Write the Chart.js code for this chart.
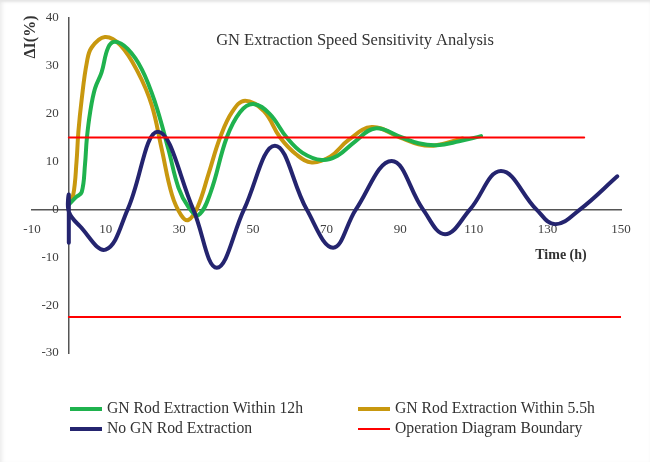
<!DOCTYPE html>
<html>
<head>
<meta charset="utf-8">
<title>GN Extraction Speed Sensitivity Analysis</title>
<script src="https://cdn.jsdelivr.net/npm/chart.js@4.4.1/dist/chart.umd.min.js"></script>
<style>
  body { margin: 0; background: #fff; }
  #wrap { position: relative; width: 650px; height: 462px; box-shadow: inset 0 3px 3px -1px #e4e4e4, inset 4px 0 4px -2px #ececec; }
  #legend { position: absolute; left: 0; top: 0; width: 650px; height: 462px; pointer-events: none;
            font-family: 'Liberation Serif', serif; font-size: 15.7px; color: #333; }
  .item { position: absolute; height: 20px; line-height: 20px; white-space: nowrap; }
  .swatch { display: inline-block; width: 32px; vertical-align: middle; margin-right: 5px; }
</style>
</head>
<body>
<div id="wrap">
  <canvas id="chart" width="650" height="462"></canvas>
  <div id="legend"></div>
</div>
<script>
const chartTitle = 'GN Extraction Speed Sensitivity Analysis';
const xTitle = 'Time (h)';
const yTitle = 'ΔI(%)';
const xTicks = [-10, 10, 30, 50, 70, 90, 110, 130, 150];
const yTicks = [-30, -20, -10, 0, 10, 20, 30, 40];

const seriesLabels = ['GN Rod Extraction Within 12h', 'GN Rod Extraction Within 5.5h', 'No GN Rod Extraction', 'Operation Diagram Boundary'];
const seriesColors = ['#1fb24e', '#c8980f', '#24246f', '#ff0000'];

// GN rod extraction within 12h
const greenX = [0, 1.9, 3.5, 4.4, 4.9, 5.8, 7.1, 8.9, 10.7, 12.6, 16, 19.8, 23.4, 27, 29.8, 32.5, 35.2, 38.5, 42.9, 46.5, 50.1, 54.5, 59.2, 63.5, 68.7, 73, 77.5, 83.2, 90.5, 95, 100, 106, 112];
const greenY = [1, 2.5, 3.6, 9.4, 14.8, 20.3, 25.2, 28.6, 33.8, 35, 33.5, 29.3, 22.4, 12.7, 4.5, 0.5, -1.2, 3.5, 15, 20.3, 22, 20, 15, 11.8, 10.3, 11.2, 14, 16.9, 15, 13.8, 13.4, 14.2, 15.3];

// GN rod extraction within 5.5h
const goldX = [0, 1.2, 2.1, 2.6, 3.5, 4.9, 6.2, 9.8, 14, 18.8, 22.5, 25.2, 28, 30.5, 32.5, 35, 38, 41.1, 44.5, 47.9, 53, 57.4, 61.9, 66, 71, 76, 82.3, 90, 95, 99, 107];
const goldY = [1.3, 3, 10, 16.2, 23, 30.7, 33.8, 36, 34.3, 28.6, 21.8, 12.7, 3.1, -1.2, -2.2, 0.5, 7.5, 15, 20.5, 22.7, 20.5, 15, 11.4, 9.8, 11, 14.5, 17.2, 15, 13.6, 13.3, 14.8];

// no GN rod extraction
const navyX = [0, 0, 0, 3, 10, 16, 24.2, 33.8, 40.2, 47.6, 56, 64.6, 71.8, 78, 87.7, 96.2, 102.2, 109, 117.4, 127, 132.1, 138.9, 149];
const navyY = [-7, 3, -0.5, -3.5, -8.4, 0, 16.2, 0, -12.2, 0, 13.3, 0, -8, 0, 10.1, 0, -5.2, 0, 8, 0, -3.1, 0, 6.9];

// operation diagram boundary (upper and lower limit)
const boundaryX = [0, 140, 140, 0, 150];
const boundaryY = [15, 15, null, -22.5, -22.5];

function toPoints(xs, ys) {
    return xs.map((x, i) => ({ x: x, y: ys[i] }));
}

const textPlugin = {
    id: 'chartText',
    afterLayout(chart) {
        // move the y axis so that it crosses the x axis at x = 0
        const x0 = chart.scales.x.getPixelForValue(0);
        chart.scales.y.left = 0;
        chart.scales.y.right = x0;
    },
    afterDraw(chart) {
        const ctx = chart.ctx;
        ctx.save();
        ctx.fillStyle = '#333';
        ctx.textAlign = 'center';
        ctx.textBaseline = 'middle';
        ctx.font = '16.5px "Liberation Serif"';
        ctx.fillText(chartTitle, 355, 41);
        ctx.font = 'bold 14px "Liberation Serif"';
        ctx.fillText(xTitle, 561, 255);
        ctx.translate(31, 37);
        ctx.rotate(-Math.PI / 2);
        ctx.font = 'bold 16px "Liberation Serif"';
        ctx.fillText(yTitle, 0, 0);
        ctx.restore();
    }
};

const tickFont = { family: 'Liberation Serif', size: 13 };

const chart = new Chart(document.getElementById('chart').getContext('2d'), {
    type: 'line',
    data: {
        datasets: [
            { label: seriesLabels[0], data: toPoints(greenX, greenY), borderColor: seriesColors[0], borderWidth: 4, order: 2 },
            { label: seriesLabels[1], data: toPoints(goldX, goldY), borderColor: seriesColors[1], borderWidth: 4, order: 3 },
            { label: seriesLabels[2], data: toPoints(navyX, navyY), borderColor: seriesColors[2], borderWidth: 4, order: 1 },
            { label: seriesLabels[3], data: toPoints(boundaryX, boundaryY), borderColor: seriesColors[3], borderWidth: 2, tension: 0, order: 0 }
        ]
    },
    options: {
        responsive: false,
        animation: false,
        layout: { padding: { left: 32, right: 29, top: 15, bottom: 109 } },
        elements: {
            point: { radius: 0 },
            line: { tension: 0.4, fill: false, borderCapStyle: 'round', borderJoinStyle: 'round' }
        },
        plugins: {
            legend: { display: false },
            tooltip: { enabled: false }
        },
        scales: {
            x: {
                type: 'linear',
                min: -10,
                max: 150,
                position: { y: 0 },
                afterBuildTicks: s => { s.ticks = xTicks.map(v => ({ value: v })); },
                afterFit: s => { s.height = 0; },
                grid: { display: false, drawTicks: false },
                border: { display: true, color: '#555', width: 1.5 },
                ticks: { font: tickFont, color: '#404040', padding: 12, maxRotation: 0, autoSkip: false }
            },
            y: {
                type: 'linear',
                min: -30,
                max: 40,
                position: 'left',
                afterBuildTicks: s => { s.ticks = yTicks.map(v => ({ value: v })); },
                afterFit: s => { s.width = 0; },
                grid: { display: false, drawTicks: false },
                border: { display: true, color: '#555', width: 1.5 },
                ticks: { font: tickFont, color: '#404040', padding: 10 }
            }
        }
    },
    plugins: [textPlugin]
});

// legend in two columns, built from the datasets
const legendPos = [[70, 398], [358, 398], [70, 418], [358, 418]];
const legendEl = document.getElementById('legend');
chart.data.datasets.forEach((ds, i) => {
    const item = document.createElement('div');
    item.className = 'item';
    item.style.left = legendPos[i][0] + 'px';
    item.style.top = legendPos[i][1] + 'px';
    const sw = document.createElement('span');
    sw.className = 'swatch';
    sw.style.borderTop = ds.borderWidth + 'px solid ' + ds.borderColor;
    item.appendChild(sw);
    item.appendChild(document.createTextNode(ds.label));
    legendEl.appendChild(item);
});
</script>
</body>
</html>
